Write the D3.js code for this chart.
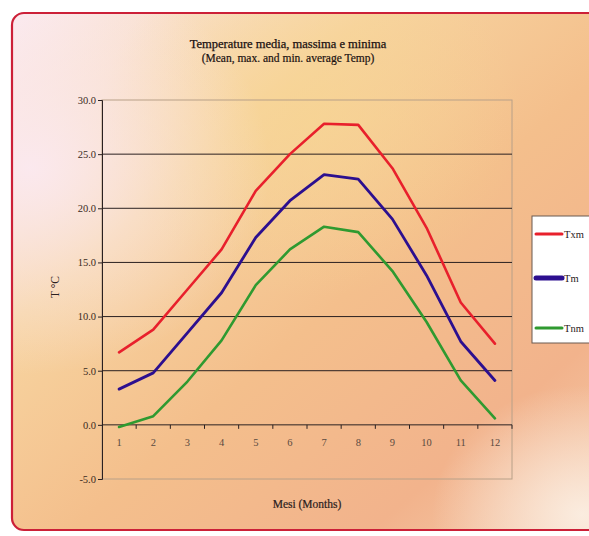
<!DOCTYPE html>
<html><head><meta charset="utf-8">
<script src="https://cdn.jsdelivr.net/npm/d3@7"></script>
<style>html,body{margin:0;padding:0;background:#fff;overflow:hidden}</style>
</head><body>
<svg id="c" width="589" height="536"></svg>
<script>
const months = ["1","2","3","4","5","6","7","8","9","10","11","12"];
const txm = [6.7, 8.8, 12.5, 16.2, 21.6, 25.0, 27.8, 27.7, 23.7, 18.2, 11.3, 7.5];
const tm  = [3.3, 4.8, 8.5, 12.2, 17.3, 20.7, 23.1, 22.7, 19.0, 13.8, 7.7, 4.1];
const tnm = [-0.2, 0.8, 4.0, 7.8, 12.9, 16.2, 18.3, 17.8, 14.2, 9.5, 4.1, 0.6];
const yTicks = [-5, 0, 5, 10, 15, 20, 25, 30];
const seriesNames = ["Txm", "Tm", "Tnm"];
const seriesColors = ["#e8202c", "#2c0f8f", "#2f9a30"];
const seriesWidths = [2.6, 2.8, 2.6];
const legendWidths = [3, 5, 3];
const series = [txm, tm, tnm];

const svg = d3.select("#c");
const defs = svg.append("defs");
const lg = defs.append("linearGradient").attr("id","bg").attr("x1","0").attr("y1","0").attr("x2","1").attr("y2","1");
[["0%","#fbeaf0"],["30%","#f7d4a0"],["55%","#f4bf8c"],["80%","#f2b38c"],["100%","#f5cdb0"]]
  .forEach(([o,c])=>lg.append("stop").attr("offset",o).attr("stop-color",c));
const rg1 = defs.append("radialGradient").attr("id","pk").attr("cx","0.03").attr("cy","0.3").attr("r","0.4");
rg1.append("stop").attr("offset","0%").attr("stop-color","#fbe9f0").attr("stop-opacity",0.95);
rg1.append("stop").attr("offset","100%").attr("stop-color","#fbe9f0").attr("stop-opacity",0);
const rg2 = defs.append("radialGradient").attr("id","cr").attr("cx","0.95").attr("cy","0.97").attr("r","0.25");
rg2.append("stop").attr("offset","0%").attr("stop-color","#fbeee2").attr("stop-opacity",0.95);
rg2.append("stop").attr("offset","100%").attr("stop-color","#fbeee2").attr("stop-opacity",0);
const rg3 = defs.append("radialGradient").attr("id","yl").attr("cx","0.5").attr("cy","0.2").attr("r","0.35");
rg3.append("stop").attr("offset","0%").attr("stop-color","#f7d592").attr("stop-opacity",0.7);
rg3.append("stop").attr("offset","100%").attr("stop-color","#f7d592").attr("stop-opacity",0);

const bx = 12, by = 13, bw = 600, bh = 517;
["bg","yl","pk","cr"].forEach(id=>{
  svg.append("rect").attr("x",bx).attr("y",by).attr("width",bw).attr("height",bh).attr("rx",12).attr("fill",`url(#${id})`);
});
svg.append("rect").attr("x",bx).attr("y",by).attr("width",bw).attr("height",bh).attr("rx",12)
  .attr("fill","none").attr("stroke","#cc2038").attr("stroke-width",2.2);

const L = 102, R = 512, T = 100, B = 479;
const x = d3.scaleBand().domain(months).range([L, R]);
const y = d3.scaleLinear().domain([-5, 30]).range([B, T]);
const font = "'Liberation Serif', 'DejaVu Serif', serif";

// plot area border
svg.append("rect").attr("x",L).attr("y",T).attr("width",R-L).attr("height",B-T)
  .attr("fill","none").attr("stroke","#b8a088").attr("stroke-width",1);

// gridlines
svg.append("g").selectAll("line").data(yTicks.filter(v=>v>-5 && v<30 && v!==0)).join("line")
  .attr("x1",L).attr("x2",R).attr("y1",d=>y(d)).attr("y2",d=>y(d))
  .attr("stroke","#2a2020").attr("stroke-width",1);

// y axis
const fmt = d3.format(".1f");
const yAxis = d3.axisLeft(y).tickValues(yTicks).tickSize(4).tickFormat(d=>fmt(d).replace("\u2212","-"));
const gy = svg.append("g").attr("transform",`translate(${L},0)`).call(yAxis);
gy.select(".domain").attr("stroke","#2a2020");
gy.selectAll(".tick line").attr("stroke","#2a2020");
gy.selectAll("text").attr("font-family",font).attr("font-size",10.5).attr("fill","#3a2a22").attr("x",-6);

// x axis at zero, ticks between categories
const gx = svg.append("g").attr("transform",`translate(0,${y(0)})`);
gx.append("line").attr("x1",L).attr("x2",R).attr("stroke","#2a2020");
gx.selectAll("line.tk").data(months).join("line").attr("class","tk")
  .attr("x1",d=>x(d)+x.bandwidth()).attr("x2",d=>x(d)+x.bandwidth()).attr("y1",0).attr("y2",4)
  .attr("stroke","#2a2020");
gx.selectAll("text").data(months).join("text")
  .attr("x",d=>x(d)+x.bandwidth()/2).attr("y",21).attr("text-anchor","middle")
  .attr("font-family",font).attr("font-size",10.5).attr("fill","#5a4a40").text(d=>d);

// lines
const line = d3.line().x((d,i)=>x(months[i])+x.bandwidth()/2).y(d=>y(d));
series.forEach((s,k)=>{
  svg.append("path").datum(s).attr("d",line).attr("fill","none")
    .attr("stroke",seriesColors[k]).attr("stroke-width",seriesWidths[k])
    .attr("stroke-linejoin","round").attr("stroke-linecap","round");
});

// titles
svg.append("text").attr("x",288).attr("y",48).attr("text-anchor","middle")
  .attr("font-family",font).attr("font-size",12.5).attr("fill","#1a1010")
  .attr("stroke","#1a1010").attr("stroke-width",0.25)
  .text("Temperature media, massima e minima");
svg.append("text").attr("x",288).attr("y",62).attr("text-anchor","middle")
  .attr("font-family",font).attr("font-size",11.5).attr("fill","#1a1010")
  .attr("stroke","#1a1010").attr("stroke-width",0.2)
  .text("(Mean, max. and min. average Temp)");
svg.append("text").attr("transform",`translate(59,287) rotate(-90)`).attr("text-anchor","middle")
  .attr("font-family",font).attr("font-size",11.5).attr("fill","#2a2020").text("T °C");
svg.append("text").attr("x",307).attr("y",508).attr("text-anchor","middle")
  .attr("font-family",font).attr("font-size",11.5).attr("fill","#2a2020")
  .attr("stroke","#2a2020").attr("stroke-width",0.2).text("Mesi  (Months)");

// legend
const lgG = svg.append("g");
lgG.append("rect").attr("x",532).attr("y",216).attr("width",80).attr("height",127)
  .attr("fill","#ffffff").attr("stroke","#6a5a50").attr("stroke-width",1);
const ly = [234, 278, 328];
seriesNames.forEach((n,k)=>{
  lgG.append("line").attr("x1",536).attr("x2",562).attr("y1",ly[k]).attr("y2",ly[k])
    .attr("stroke",seriesColors[k]).attr("stroke-width",legendWidths[k]).attr("stroke-linecap","round");
  lgG.append("text").attr("x",564).attr("y",ly[k]+3.5).attr("font-family",font).attr("font-size",10.5)
    .attr("fill","#2a2020").text(n);
});
</script>
</body></html>
